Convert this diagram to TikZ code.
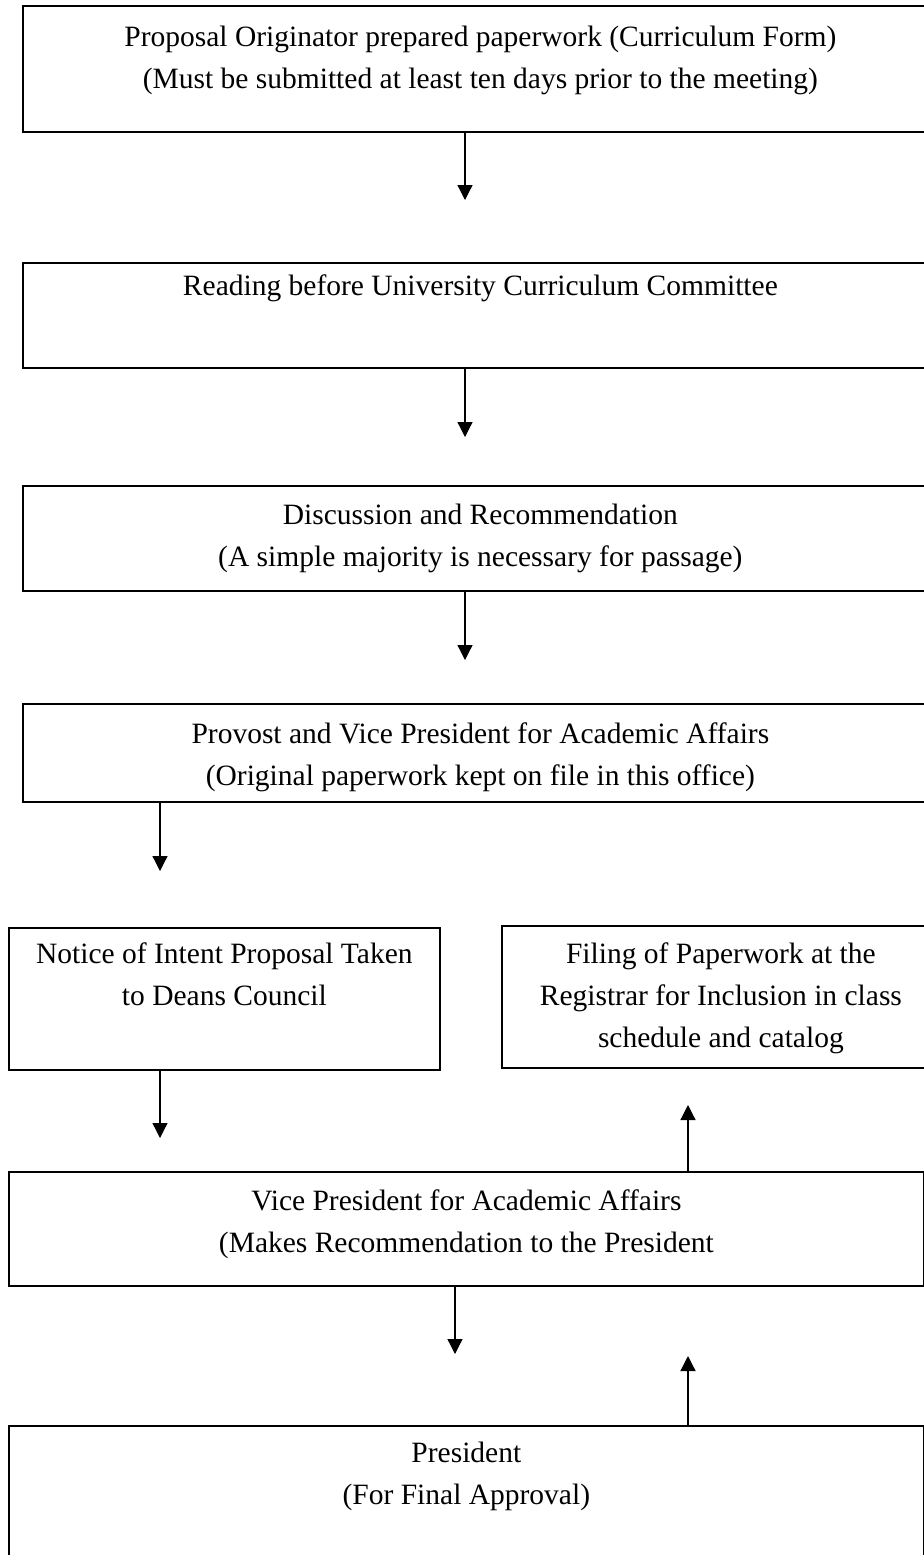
\documentclass[tikz,border=0pt]{standalone}
\usepackage{fontspec}
\setmainfont{Liberation Serif}
\usetikzlibrary{arrows.meta, positioning}

\begin{document}
\begin{tikzpicture}[x=0.4pt, y=-0.4pt,
	>={Triangle[width=6pt, length=6pt]},
	stage/.style={draw, line width=0.7pt, inner sep=0pt, anchor=north west},
	stagetext/.style={anchor=north, align=center, inner sep=0pt,
		font=\fontsize{11.8}{16.8}\selectfont},
	flow/.style={->, line width=0.5pt}]
	\clip (0,0) rectangle (924,1555);
	% the stages of the review
	\node[stage, minimum width=366pt, minimum height=50.4pt] (orig) at (22,5) {};
	\node[stage, minimum width=366pt, minimum height=42pt] (reading) at (22,262) {};
	\node[stage, minimum width=366pt, minimum height=42pt] (discuss) at (22,485) {};
	\node[stage, minimum width=366pt, minimum height=39.2pt] (provost) at (22,703) {};
	\node[stage, minimum width=172.4pt, minimum height=56.8pt] (notice) at (8,927) {};
	\node[stage, minimum width=175.2pt, minimum height=56.8pt] (filing) at (501,925) {};
	\node[stage, minimum width=366pt, minimum height=45.6pt] (vpaa) at (8,1171) {};
	\node[stage, minimum width=366pt, minimum height=62pt] (pres) at (8,1425) {};
	% texts, near the top of each stage
	\node[stagetext] (origtxt) at ([yshift=-8.4pt]orig.north)
	{Proposal Originator prepared paperwork (Curriculum Form)\\
		(Must be submitted at least ten days prior to the meeting)};
	\node[stagetext] (readingtxt) at ([yshift=-4.8pt]reading.north)
	{Reading before University Curriculum Committee};
	\node[stagetext] (discusstxt) at ([yshift=-7.6pt]discuss.north)
	{Discussion and Recommendation\\
		(A simple majority is necessary for passage)};
	\node[stagetext] (provosttxt) at ([yshift=-7.6pt]provost.north)
	{Provost and Vice President for Academic Affairs\\
		(Original paperwork kept on file in this office)};
	\node[stagetext] (noticetxt) at ([yshift=-6pt]notice.north)
	{Notice of Intent Proposal Taken\\
		to Deans Council};
	\node[stagetext] (filingtxt) at ([yshift=-6.8pt]filing.north)
	{Filing of Paperwork at the\\
		Registrar for Inclusion in class\\
		schedule and catalog};
	\node[stagetext] (vpaatxt) at ([yshift=-7.2pt]vpaa.north)
	{Vice President for Academic Affairs\\
		(Makes Recommendation to the President};
	\node[stagetext] (prestxt) at ([yshift=-6.8pt]pres.north)
	{President\\
		(For Final Approval)};
	% free ends of the arrows
	\coordinate (a1) at (465,200);
	\coordinate (a2) at (465,437);
	\coordinate (a3) at (465,660);
	\coordinate (a4) at (160,871);
	\coordinate (a5) at (160,1138);
	\coordinate (a6) at (688,1105);
	\coordinate (a7) at (455,1354);
	\coordinate (a8) at (688,1356);
	% arrows
	\draw[flow] (orig.south -| a1) -- (a1);
	\draw[flow] (reading.south -| a2) -- (a2);
	\draw[flow] (discuss.south -| a3) -- (a3);
	\draw[flow] (provost.south -| a4) -- (a4);
	\draw[flow] (notice.south -| a5) -- (a5);
	\draw[flow] (vpaa.north -| a6) -- (a6);
	\draw[flow] (vpaa.south -| a7) -- (a7);
	\draw[flow] (pres.north -| a8) -- (a8);
\end{tikzpicture}
\end{document}
